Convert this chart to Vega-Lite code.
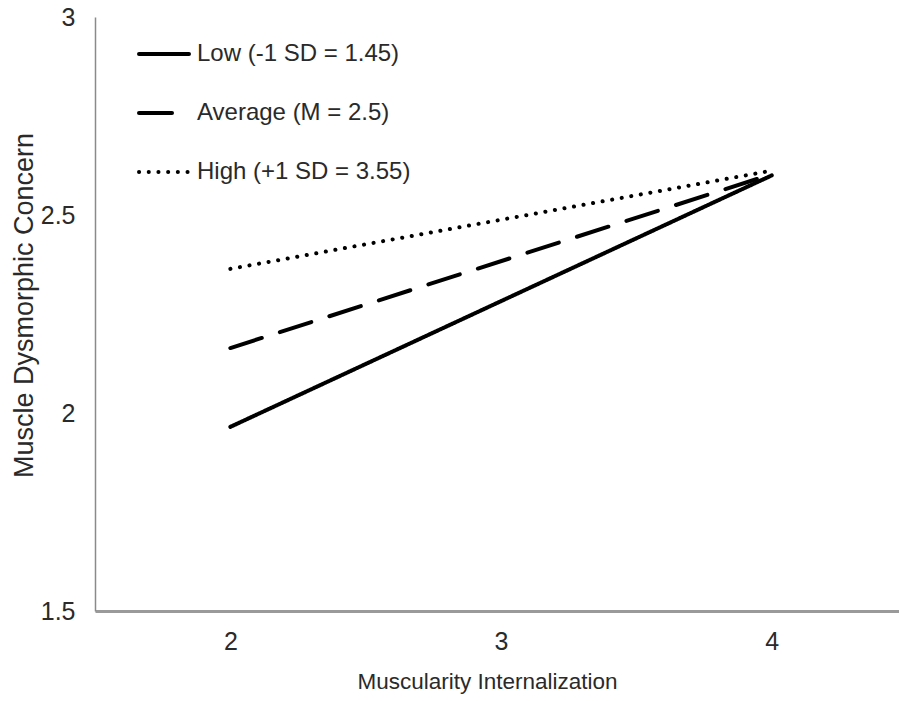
{
  "$schema": "https://vega.github.io/schema/vega-lite/v6.json",
  "width": 804,
  "height": 594,
  "autosize": {"type": "none"},
  "padding": {"left": 95, "top": 17, "right": 0, "bottom": 90},
  "background": "white",
  "config": {
    "view": {"stroke": null},
    "font": "Liberation Sans"
  },
  "data": {
    "values": [
      {"mi": 2, "mdc": 1.965, "level": "Low (-1 SD = 1.45)"},
      {"mi": 4, "mdc": 2.600, "level": "Low (-1 SD = 1.45)"},
      {"mi": 2, "mdc": 2.164, "level": "Average (M = 2.5)"},
      {"mi": 4, "mdc": 2.603, "level": "Average (M = 2.5)"},
      {"mi": 2, "mdc": 2.364, "level": "High (+1 SD = 3.55)"},
      {"mi": 4, "mdc": 2.612, "level": "High (+1 SD = 3.55)"}
    ]
  },
  "mark": {"type": "line", "color": "black", "strokeWidth": 4, "strokeCap": "round"},
  "encoding": {
    "x": {
      "field": "mi",
      "type": "quantitative",
      "scale": {"domain": [1.5, 4.47], "nice": false, "zero": false},
      "axis": {
        "title": "Muscularity Internalization",
        "values": [2, 3, 4],
        "grid": false,
        "ticks": false,
        "domainColor": "#9a9a9a",
        "domainWidth": 3,
        "labelFontSize": 25,
        "labelColor": "#2a2a2a",
        "labelPadding": 18,
        "titleFontSize": 22.5,
        "titleFontWeight": "normal",
        "titleColor": "#2a2a2a",
        "titleX": 392,
        "titleY": 77,
        "titleBaseline": "alphabetic"
      }
    },
    "y": {
      "field": "mdc",
      "type": "quantitative",
      "scale": {"domain": [1.5, 3], "nice": false, "zero": false},
      "axis": {
        "title": "Muscle Dysmorphic Concern",
        "values": [1.5, 2, 2.5, 3],
        "format": ".1~f",
        "grid": false,
        "ticks": false,
        "domainColor": "#8a8a8a",
        "domainWidth": 1.5,
        "labelFontSize": 25,
        "labelColor": "#2a2a2a",
        "labelPadding": 20,
        "titleFontSize": 27,
        "titleFontWeight": "normal",
        "titleColor": "#2a2a2a",
        "titleX": -63,
        "titleY": 288,
        "titleBaseline": "alphabetic"
      }
    },
    "strokeDash": {
      "field": "level",
      "type": "nominal",
      "sort": ["Low (-1 SD = 1.45)", "Average (M = 2.5)", "High (+1 SD = 3.55)"],
      "scale": {"range": [[1, 0], [33, 19], [0.1, 9.6]]},
      "legend": {
        "title": null,
        "orient": "none",
        "legendX": 42,
        "legendY": 10,
        "symbolType": "stroke",
        "symbolSize": 2500,
        "symbolStrokeWidth": 4,
        "symbolStrokeColor": "black",
        "labelFontSize": 24,
        "labelLimit": 0,
        "labelColor": "#2a2a2a",
        "labelOffset": 6,
        "rowPadding": 20,
        "encode": {"symbols": {"update": {"strokeCap": {"value": "round"}}}}
      }
    }
  }
}
